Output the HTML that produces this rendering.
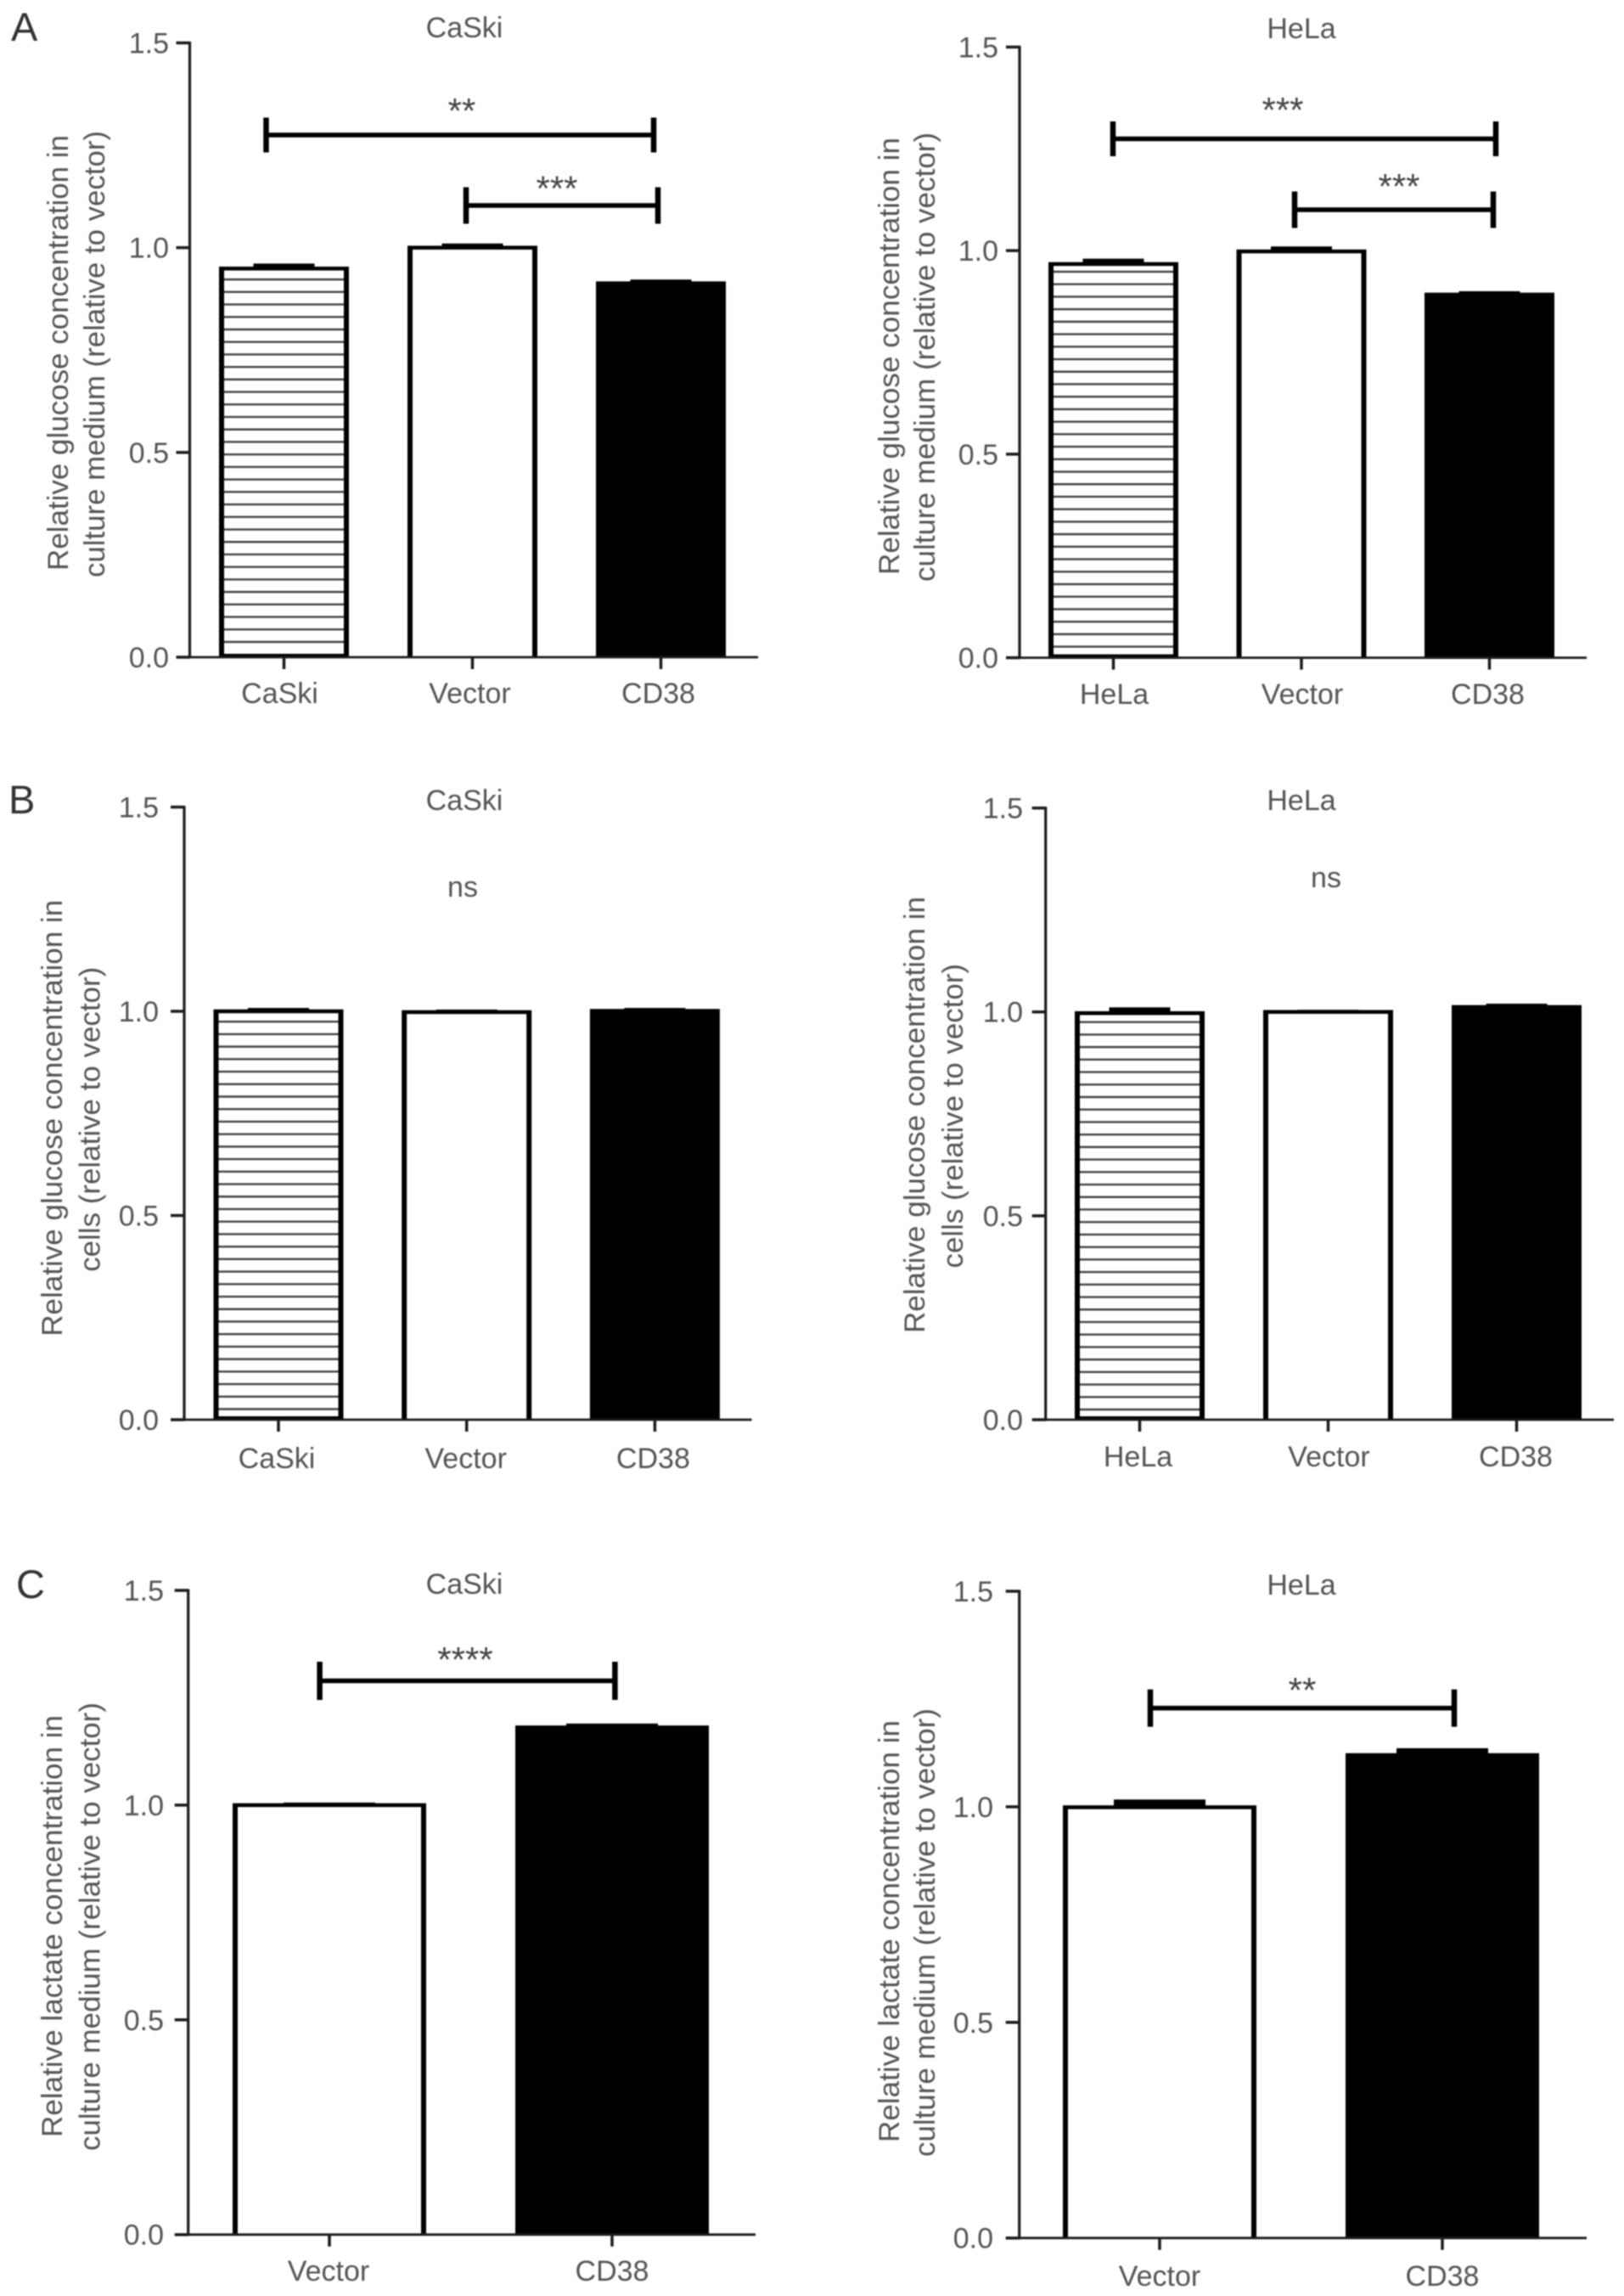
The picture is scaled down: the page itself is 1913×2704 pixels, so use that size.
<!DOCTYPE html>
<html lang="en">
<head>
<meta charset="utf-8">
<title>Relative glucose and lactate concentration in CaSki and HeLa cells</title>
<style>
html,body{margin:0;padding:0;background:#fff;}
#figure{display:block;width:1913px;height:2704px;filter:blur(0.7px);font-family:"Liberation Sans",sans-serif;}
</style>
</head>
<body>
<svg id="figure" xmlns="http://www.w3.org/2000/svg" width="1913" height="2704" viewBox="0 0 1913 2704">
  <rect x="0" y="0" width="1913" height="2704" fill="#fff"/>
  <text x="13" y="48" font-size="47" fill="#333">A</text>
  <text x="10" y="958" font-size="47" fill="#333">B</text>
  <text x="19" y="1882" font-size="47" fill="#333">C</text>
</svg>
<script>
// ---- Shared axis data ----
const yTickValues = [0, 0.5, 1, 1.5];
const yTickLabels = ['0.0', '0.5', '1.0', '1.5'];

// ---- Panel A, CaSki ----
const aCaskiCategories = ['CaSki', 'Vector', 'CD38'];
const aCaskiValues = [0.949, 1.0, 0.913];
const aCaskiErrors = [0.008, 0.006, 0.005];
// ---- Panel A, HeLa ----
const aHelaCategories = ['HeLa', 'Vector', 'CD38'];
const aHelaValues = [0.967, 0.998, 0.892];
const aHelaErrors = [0.009, 0.008, 0.004];
// ---- Panel B, CaSki ----
const bCaskiCategories = ['CaSki', 'Vector', 'CD38'];
const bCaskiValues = [1.0, 0.998, 1.001];
const bCaskiErrors = [0.004, 0.002, 0.003];
// ---- Panel B, HeLa ----
const bHelaCategories = ['HeLa', 'Vector', 'CD38'];
const bHelaValues = [0.997, 1.0, 1.012];
const bHelaErrors = [0.01, 0.001, 0.004];
// ---- Panel C, CaSki ----
const cCaskiCategories = ['Vector', 'CD38'];
const cCaskiValues = [1.0, 1.181];
const cCaskiErrors = [0.002, 0.005];
// ---- Panel C, HeLa ----
const cHelaCategories = ['Vector', 'CD38'];
const cHelaValues = [0.999, 1.12];
const cHelaErrors = [0.014, 0.012];

// ---- Panel layout (frames, not data) ----
const panels = [
  {id:'a-caski', title:'CaSki', cats:aCaskiCategories, vals:aCaskiValues, errs:aCaskiErrors, fills:['hatch','white','black'], hatchOffset:18,
   axisX:223.5, y0:774, y15:50.5, xStart:208, xEnd:893, first:334.5, pitch:222, barW:153, capW:72,
   tickRight:199, titleX:547, titleY:44, labelY:828, labelDx:[-5,-3,-3],
   yLines:[['Relative glucose concentration in',80,415.5,513],['culture medium (relative to vector)',123,417,526]],
   brackets:[{x0:313.5,x1:770,half:20.5,stars:'**',sx:544,sy:127},{x0:549,x1:775,half:21.5,stars:'***',sx:656,sy:218.5}], bracketY:[159,242]},
  {id:'a-hela', title:'HeLa', cats:aHelaCategories, vals:aHelaValues, errs:aHelaErrors, fills:['hatch','white','black'], hatchOffset:13,
   axisX:1201, y0:774.6, y15:55.4, xStart:1186, xEnd:1869, first:1311.5, pitch:221.5, barW:153, capW:72,
   tickRight:1176, titleX:1533, titleY:45, labelY:829, labelDx:[1,1,-2],
   yLines:[['Relative glucose concentration in',1059,419.5,515],['culture medium (relative to vector)',1101,420.5,529]],
   brackets:[{x0:1311,x1:1762,half:20.5,stars:'***',sx:1511,sy:126},{x0:1525,x1:1759,half:21.5,stars:'***',sx:1648,sy:216}], bracketY:[163.5,247]},
  {id:'b-caski', title:'CaSki', cats:bCaskiCategories, vals:bCaskiValues, errs:bCaskiErrors, fills:['hatch','white','black'], hatchOffset:12.5,
   axisX:217, y0:1672, y15:950.5, xStart:202, xEnd:885.5, first:328, pitch:221.7, barW:153, capW:72,
   tickRight:187, titleX:547, titleY:954, labelY:1729, labelDx:[-2,-1,-2],
   yLines:[['Relative glucose concentration in',73,1316.8,514],['cells (relative to vector)',117.5,1318.3,359]],
   brackets:[], bracketY:[], ns:{x:545,y:1056}},
  {id:'b-hela', title:'HeLa', cats:bHelaCategories, vals:bHelaValues, errs:bHelaErrors, fills:['hatch','white','black'], hatchOffset:12,
   axisX:1231.7, y0:1672, y15:951.6, xStart:1216.5, xEnd:1901, first:1342.5, pitch:222, barW:153, capW:72,
   tickRight:1205, titleX:1533, titleY:954, labelY:1727, labelDx:[-2,1,-1],
   yLines:[['Relative glucose concentration in',1089,1313,514],['cells (relative to vector)',1134,1314.2,358.5]],
   brackets:[], bracketY:[], ns:{x:1562,y:1045}},
  {id:'c-caski', title:'CaSki', cats:cCaskiCategories, vals:cCaskiValues, errs:cCaskiErrors, fills:['white','black'], hatchOffset:0,
   axisX:221.7, y0:2631.7, y15:1873, xStart:206, xEnd:890, first:388, pitch:333, barW:228, capW:108,
   tickRight:193, titleX:547, titleY:1877, labelY:2686, labelDx:[-1,0],
   yLines:[['Relative lactate concentration in',73,2268.5,497],['culture medium (relative to vector)',117.5,2269,528]],
   brackets:[{x0:376.6,x1:724.4,half:22.5,stars:'****',sx:548,sy:1951}], bracketY:[1979.5]},
  {id:'c-hela', title:'HeLa', cats:cHelaCategories, vals:cHelaValues, errs:cHelaErrors, fills:['white','black'], hatchOffset:0,
   axisX:1200.7, y0:2635.7, y15:1874, xStart:1185, xEnd:1869, first:1366, pitch:333, barW:228, capW:108,
   tickRight:1170, titleX:1533, titleY:1878, labelY:2692, labelDx:[0,0],
   yLines:[['Relative lactate concentration in',1059,2274.5,497],['culture medium (relative to vector)',1101,2276,528]],
   brackets:[{x0:1355,x1:1713,half:22,stars:'**',sx:1534,sy:1987}], bracketY:[2011.6]}
];

const NS = 'http://www.w3.org/2000/svg';
const root = document.getElementById('figure');
const AXIS = '#1c1c1c';
const TEXT = '#555';

function make(parent, tag, attrs) {
  const el = document.createElementNS(NS, tag);
  for (const k in attrs) el.setAttribute(k, attrs[k]);
  parent.appendChild(el);
  return el;
}

function drawPanel(p) {
  const yScale = v => p.y0 + (p.y15 - p.y0) * v / 1.5;
  const xScale = i => p.first + p.pitch * i;

  const g = make(root, 'g', {});
  
  

  const title = make(g, 'text', {x:p.titleX, y:p.titleY, 'font-size':34, fill:TEXT, 'text-anchor':'middle'});
  title.textContent = p.title;
  
  

  p.yLines.forEach(function (line, n) {
    const t = make(g, 'text', {
      transform:'translate(' + line[1] + ',' + line[2] + ') rotate(-90)',
      x:0, y:0, 'font-size':34, fill:TEXT, 'text-anchor':'middle',
      textLength:line[3], lengthAdjust:'spacingAndGlyphs'
    });
    t.textContent = line[0];
    
    
  });

  // Bars, drawn before the axes so the axis line sits on top
  p.vals.forEach(function (v, i) {
    const side = 6;
    const topStroke = 4.5;
    const left = xScale(i) - p.barW / 2;
    const top = yScale(v);
    const outerTop = top - topStroke / 2;
    const innerTop = top + topStroke / 2;

    const capY = yScale(v + p.errs[i]);
    const errorBar = make(g, 'rect', {x:xScale(i) - p.capW / 2, y:capY - 2, width:p.capW, height:top - capY + 2, fill:'#000'});
    
    

    const bar = make(g, 'rect', {x:left, y:outerTop, width:p.barW, height:p.y0 - outerTop, fill:'#000'});
    
    

    if (p.fills[i] !== 'black') {
      const inner = make(g, 'rect', {x:left + side, y:innerTop, width:p.barW - 2 * side, height:p.y0 - innerTop, fill:'#fff'});
      
      
    }

    if (p.fills[i] === 'hatch') {
      const step = 14.72;
      for (let k = 0; p.y0 - p.hatchOffset - k * step > innerTop + 3; k++) {
        const hy = p.y0 - p.hatchOffset - k * step;
        const h = make(g, 'line', {x1:left + side, x2:left + p.barW - side, y1:hy, y2:hy, stroke:'#444', 'stroke-width':2.4});
        
        
      }
      const foot = make(g, 'line', {x1:left, x2:left + p.barW, y1:p.y0 - 2.5, y2:p.y0 - 2.5, stroke:'#000', 'stroke-width':3});
      
      
    }

    const tick = make(g, 'line', {x1:xScale(i), x2:xScale(i), y1:p.y0, y2:p.y0 + 14, stroke:AXIS, 'stroke-width':3.5});
    
    

    const lab = make(g, 'text', {x:xScale(i) + p.labelDx[i], y:p.labelY, 'font-size':34, fill:TEXT, 'text-anchor':'middle'});
    lab.textContent = p.cats[i];
    
    
  });

  const yAxis = make(g, 'line', {x1:p.axisX, x2:p.axisX, y1:p.y15 - 1.5, y2:p.y0 + 1.5, stroke:AXIS, 'stroke-width':3.2});
  
  
  const xAxis = make(g, 'line', {x1:p.xStart, x2:p.xEnd, y1:p.y0, y2:p.y0, stroke:AXIS, 'stroke-width':2.8});
  
  

  yTickValues.forEach(function (v, i) {
    const tick = make(g, 'line', {x1:p.axisX - 16, x2:p.axisX, y1:yScale(v), y2:yScale(v), stroke:AXIS, 'stroke-width':3.5});
    
    
    const lab = make(g, 'text', {x:p.tickRight, y:yScale(v) + 12, 'font-size':34, fill:TEXT, 'text-anchor':'end'});
    lab.textContent = yTickLabels[i];
    
    
  });

  p.brackets.forEach(function (b, n) {
    const y = p.bracketY[n];
    const span = make(g, 'line', {x1:b.x0, x2:b.x1, y1:y, y2:y, stroke:'#000', 'stroke-width':5.5});
    
    
    const ends = make(g, 'path', {
      d:'M' + b.x0 + ' ' + (y - b.half) + 'V' + (y + b.half) + 'M' + b.x1 + ' ' + (y - b.half) + 'V' + (y + b.half),
      fill:'none', stroke:'#000', 'stroke-width':6.5
    });
    
    
    const s = make(g, 'text', {x:b.sx, y:b.sy + 18, 'font-size':42, fill:'#444', 'text-anchor':'middle'});
    s.textContent = b.stars;
    
    
  });

  if (p.ns) {
    const ns = make(g, 'text', {x:p.ns.x, y:p.ns.y, 'font-size':34, fill:TEXT, 'text-anchor':'middle'});
    ns.textContent = 'ns';
    
    
  }
}

panels.forEach(drawPanel);
</script>
</body>
</html>
